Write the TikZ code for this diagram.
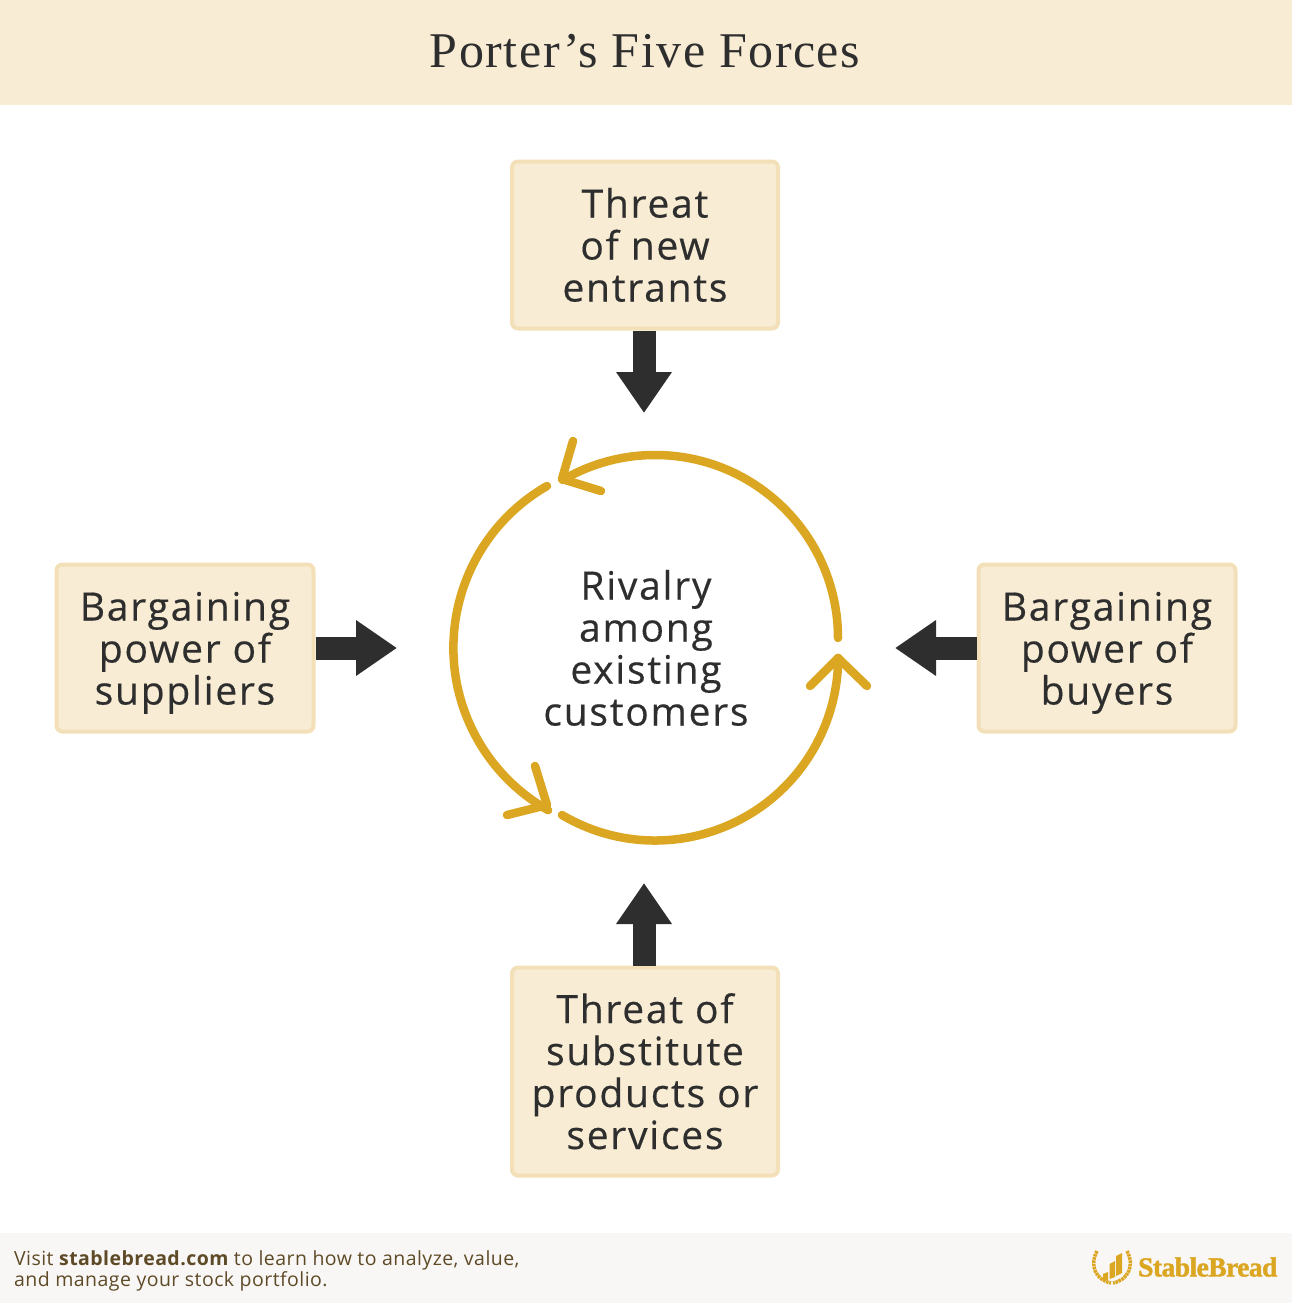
\documentclass[tikz,border=0pt]{standalone}
\usepackage{fontspec}
\usetikzlibrary{arrows.meta}
\setmainfont{Open Sans}[LetterSpace=4.5,FakeBold=0.4]
\newfontfamily\titlefont{Liberation Serif}[LetterSpace=3]
\newfontfamily\logofont{Liberation Serif}[LetterSpace=-2,FakeBold=1.5]
\newfontfamily\footfont{Open Sans}[LetterSpace=2.3]
\definecolor{creamfill}{HTML}{F8ECD4}
\definecolor{creamline}{HTML}{F3E0B8}
\definecolor{ink}{HTML}{2E2E2E}
\definecolor{gold}{HTML}{DBA622}
\definecolor{footbg}{HTML}{F9F7F5}
\definecolor{foot}{HTML}{5E4A26}
\newcommand{\firstprop}{\rule{0pt}{41pt}}
\newcommand{\lastprop}{\rule[-12pt]{0pt}{12pt}}
\tikzset{
  x=1pt,y=-1pt,
  forcebox/.style={draw=creamline,fill=creamfill,line width=4pt,rounded corners=6pt,minimum width=#1,align=center,text=ink,font=\fontsize{39}{42}\selectfont,inner sep=0pt},
  blockarrow/.style={draw=ink,line width=23pt,-{Triangle[length=41pt,width=53pt,fill=ink]}},
  goldarc/.style={draw=gold,line width=8.5pt,line cap=round,line join=round},
}
\begin{document}
\begin{tikzpicture}
\useasboundingbox (0,0) rectangle (1292,1303);
\fill[creamfill] (0,0) rectangle (1292,105);
\fill[footbg] (0,1233) rectangle (1292,1303);
\node[text=ink,font=\titlefont\fontsize{50}{54}\selectfont] (title) at (645,51) {Porter’s Five Forces};

\node[forcebox=266pt,minimum height=167pt] (entrants) at (645,245) {\firstprop Threat\\of new\\entrants\lastprop};
\node[forcebox=257pt,minimum height=167pt] (suppliers) at (185,648) {\firstprop Bargaining\\power of\\suppliers\lastprop};
\node[forcebox=257pt,minimum height=167pt] (buyers) at (1107,648) {\firstprop Bargaining\\power of\\buyers\lastprop};
\node[forcebox=266pt,minimum height=208pt] (substitutes) at (645,1071.5) {\firstprop Threat of\\substitute\\products or\\services\lastprop};
\node[text=ink,align=center,font=\fontsize{39}{42}\selectfont,inner sep=0pt] (rivalry) at (646,648) {\firstprop Rivalry\\among\\existing\\customers\lastprop};

\coordinate (tipT) at (644,413);
\coordinate (tipL) at (397,648);
\coordinate (tipR) at (895,648);
\coordinate (tipB) at (644,883);
\draw[blockarrow] (entrants.south -| tipT) -- (tipT);
\draw[blockarrow] (suppliers.east) -- (tipL);
\draw[blockarrow] (buyers.west) -- (tipR);
\draw[blockarrow] (substitutes.north -| tipB) -- (tipB);

% circular arrows
\draw[goldarc] (838,638) arc[start angle=0,end angle=-120.3,radius=183];
\draw[goldarc] (547,486) arc[start angle=-119.9,end angle=-240.5,radius=186.6];
\draw[goldarc] (562,815) arc[start angle=-239.4,end angle=-359.9,radius=183];
\draw[goldarc] (573,441) -- (562,479) -- (601,491);
\draw[goldarc] (535,766) -- (547,805) -- (507,815);
\draw[goldarc] (810,686) -- (838,658) -- (867,686);

% footer
\node[anchor=north west,text=foot,align=left,inner sep=0pt,font=\footfont\fontsize{19.5}{21.5}\selectfont] (foottext) at (14,1250) {Visit {\bfseries stablebread.com} to learn how to analyze, value,\\and manage your stock portfolio.};
\node[anchor=west,text=gold,inner sep=0pt,font=\logofont\bfseries\fontsize{27.5}{30}\selectfont] (logo) at (1138,1267) {StableBread};
\fill[gold] (1103,1280) -- (1103,1274) -- (1108,1272) -- (1108,1280) -- cycle;
\fill[gold] (1109.5,1279) -- (1109.5,1264) -- (1115,1261) -- (1115,1277) -- cycle;
\fill[gold] (1116,1276) -- (1116,1256) -- (1122,1253) -- (1122,1273) -- cycle;
\draw[gold,line width=3.5pt,dash pattern=on 2.6pt off 0.7pt] (1097,1251) .. controls (1089,1266) and (1096,1280) .. (1111,1283);
\draw[gold,line width=3.5pt,dash pattern=on 2.6pt off 0.7pt] (1127,1251) .. controls (1135,1266) and (1128,1280) .. (1113,1283);
\end{tikzpicture}
\end{document}
